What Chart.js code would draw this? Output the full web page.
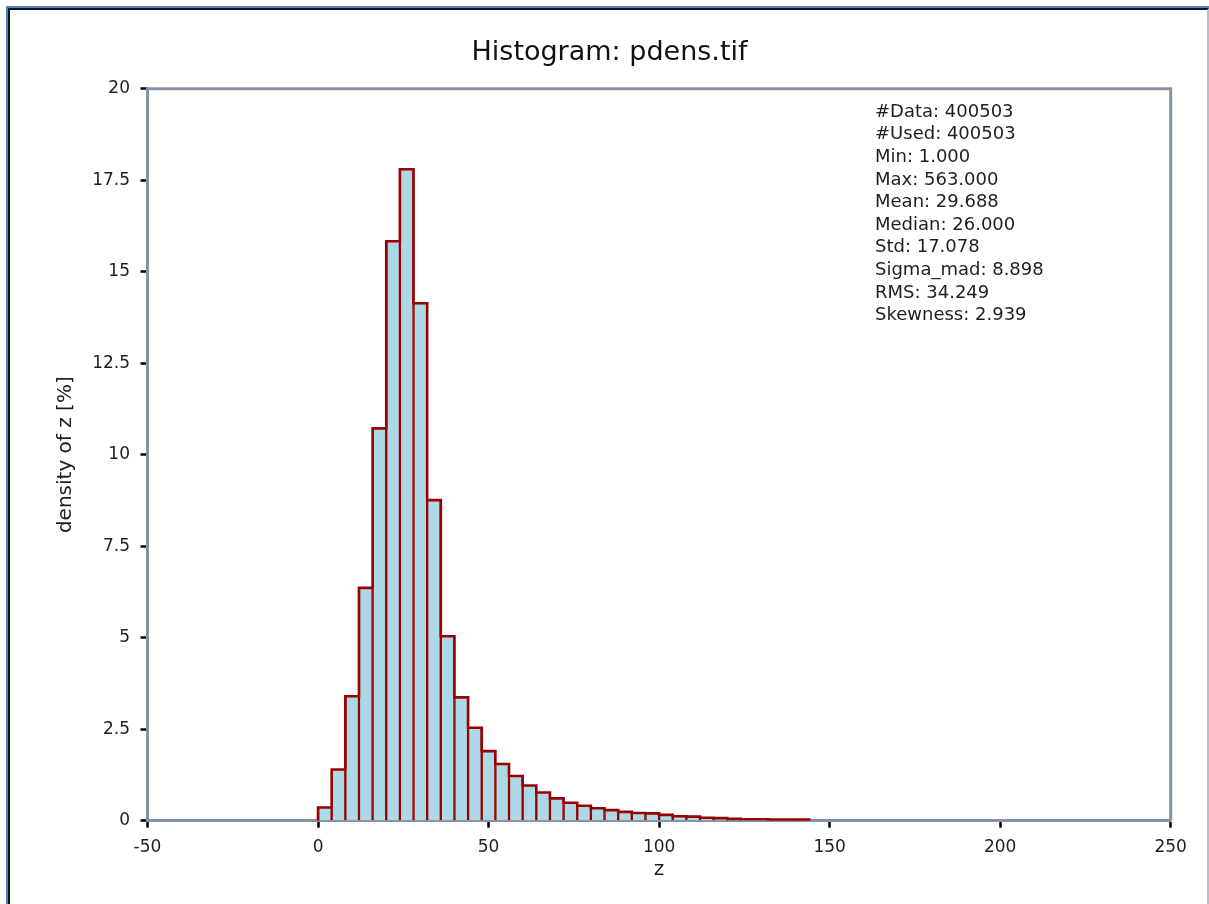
<!DOCTYPE html>
<html>
<head>
<meta charset="utf-8">
<title>Histogram: pdens.tif</title>
<script src="https://cdn.jsdelivr.net/npm/chart.js@4.4.1/dist/chart.umd.min.js"></script>
<style>
  html, body { margin: 0; padding: 0; background: #fff; overflow: hidden; }
  .frame {
    position: absolute; left: 6px; top: 6px; width: 1203px; height: 1000px;
    border-top: 2px solid #4b82c3; border-left: 2px solid #4b82c3;
    box-sizing: border-box;
  }
  .frame-inner {
    width: 100%; height: 100%; box-sizing: border-box;
    border-top: 2px solid #111; border-left: 2px solid #111; border-right: 2px solid #b9bcc2;
  }
  #histChart { position: absolute; left: 0; top: 0; }
</style>
</head>
<body>
<div class="frame"><div class="frame-inner"></div></div>
<canvas id="histChart" width="1209" height="904"></canvas>
<script>
// left edge of each bin (z) and its density in percent
const binEdges = [0, 4, 8, 12, 16, 20, 24, 28, 32, 36, 40, 44, 48, 52, 56, 60, 64, 68,
                  72, 76, 80, 84, 88, 92, 96, 100, 104, 108, 112, 116, 120, 124, 128, 132, 136, 140];
const binWidth = 4;
const density = [0.36, 1.40, 3.40, 6.36, 10.72, 15.83, 17.80, 14.14, 8.76, 5.04, 3.37, 2.54,
                 1.90, 1.55, 1.22, 0.96, 0.77, 0.61, 0.49, 0.41, 0.34, 0.29, 0.24, 0.21,
                 0.20, 0.16, 0.12, 0.11, 0.08, 0.07, 0.05, 0.04, 0.04, 0.03, 0.03, 0.03];

const xTicks = [-50, 0, 50, 100, 150, 200, 250];
const yTicks = [0, 2.5, 5, 7.5, 10, 12.5, 15, 17.5, 20];

const statsLines = [
  '#Data: 400503',
  '#Used: 400503',
  'Min: 1.000',
  'Max: 563.000',
  'Mean: 29.688',
  'Median: 26.000',
  'Std: 17.078',
  'Sigma_mad: 8.898',
  'RMS: 34.249',
  'Skewness: 2.939'
];

const FONT = '"DejaVu Sans", Verdana, sans-serif';
const frameColor = '#8593a6';
const barEdge = '#990000';

// bars sit at bin centres, outline traces the top of the histogram
const barPoints = binEdges.map((e, i) => ({ x: e + binWidth / 2, y: density[i] }));
const outline = [{ x: binEdges[0], y: 0 }];
binEdges.forEach((e, i) => outline.push({ x: e, y: density[i] }));
outline.push({ x: binEdges[binEdges.length - 1] + binWidth, y: 0 });

const extras = {
  id: 'extras',
  afterDraw(chart) {
    const { ctx, chartArea } = chart;
    ctx.save();
    // top and right sides of the plot frame
    ctx.strokeStyle = frameColor;
    ctx.lineWidth = 3;
    ctx.beginPath();
    ctx.moveTo(chartArea.left, chartArea.top);
    ctx.lineTo(chartArea.right, chartArea.top);
    ctx.lineTo(chartArea.right, chartArea.bottom);
    ctx.stroke();

    // summary statistics
    ctx.fillStyle = '#1e1e1e';
    ctx.font = '18px ' + FONT;
    ctx.textAlign = 'left';
    ctx.textBaseline = 'alphabetic';
    statsLines.forEach((line, i) => {
      ctx.fillText(line, chartArea.left + 727.5, chartArea.top + 28 + i * 22.6);
    });
    ctx.restore();
  }
};

new Chart(document.getElementById('histChart'), {
  data: {
    datasets: [
      {
        type: 'line',
        data: outline,
        borderColor: barEdge,
        borderWidth: 2.6,
        stepped: true,
        pointRadius: 0,
        fill: false,
        order: 0
      },
      {
        type: 'bar',
        data: barPoints,
        backgroundColor: '#add8e6',
        borderColor: barEdge,
        borderWidth: { left: 1.5, right: 1.5, top: 0, bottom: 0 },
        borderSkipped: false,
        barPercentage: 1,
        categoryPercentage: 1,
        order: 1
      }
    ]
  },
  options: {
    responsive: false,
    animation: false,
    events: [],
    layout: { padding: { left: 48.3, right: 38.3, top: 0, bottom: 0 } },
    plugins: {
      legend: { display: false },
      tooltip: { enabled: false },
      title: {
        display: true,
        text: 'Histogram: pdens.tif',
        color: '#111',
        font: { family: FONT, size: 27, weight: 'normal' },
        padding: { top: 36.8, bottom: 19.5 }
      }
    },
    scales: {
      x: {
        type: 'linear',
        offset: false,
        min: xTicks[0],
        max: xTicks[xTicks.length - 1],
        afterBuildTicks: s => { s.ticks = xTicks.map(v => ({ value: v })); },
        afterFit: s => { s.height = 83.3; },
        border: { color: frameColor, width: 3 },
        grid: { offset: false, drawOnChartArea: false, tickLength: 7, tickColor: '#000', tickWidth: 2.5 },
        ticks: {
          padding: 10,
          color: '#1e1e1e',
          font: { family: FONT, size: 17 },
          callback: v => String(v)
        },
        title: {
          display: true,
          text: 'z',
          color: '#1e1e1e',
          font: { family: FONT, size: 20 },
          padding: { top: 0, bottom: 22 }
        }
      },
      y: {
        type: 'linear',
        min: yTicks[0],
        max: yTicks[yTicks.length - 1],
        afterBuildTicks: s => { s.ticks = yTicks.map(v => ({ value: v })); },
        afterFit: s => { s.width = 99.2; },
        border: { color: frameColor, width: 3 },
        grid: { drawOnChartArea: false, tickLength: 7, tickColor: '#000', tickWidth: 2.5 },
        ticks: {
          padding: 10.5,
          color: '#1e1e1e',
          font: { family: FONT, size: 17 },
          callback: v => String(v)
        },
        title: {
          display: true,
          text: 'density of z [%]',
          color: '#1e1e1e',
          font: { family: FONT, size: 20 },
          padding: { top: 5.7, bottom: 0 }
        }
      }
    }
  },
  plugins: [extras]
});
</script>
</body>
</html>
